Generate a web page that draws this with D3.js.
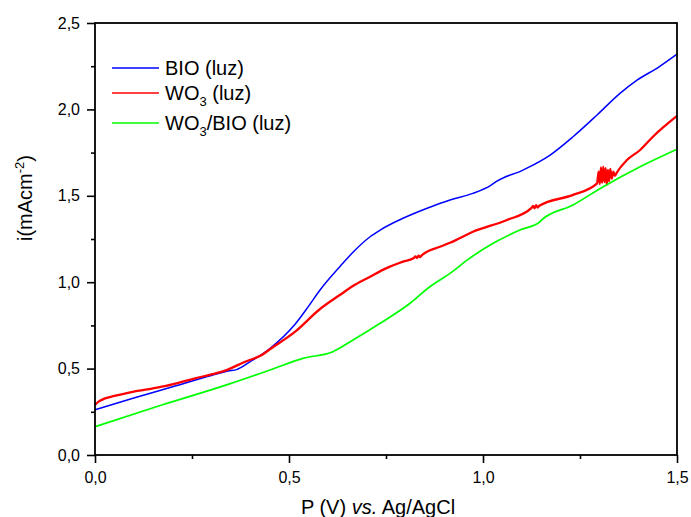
<!DOCTYPE html>
<html>
<head>
<meta charset="utf-8">
<script src="https://cdn.jsdelivr.net/npm/d3@7"></script>
<style>
  body { margin: 0; background: #fff; }
  text { font-family: Arial, "Liberation Sans", sans-serif; fill: #000; }
</style>
</head>
<body>
<div id="chart"></div>
<script>
// BIO (luz)
const bioV = [0.00, 0.10, 0.20, 0.30, 0.343, 0.365, 0.40, 0.45, 0.515, 0.55, 0.58, 0.631, 0.67, 0.709, 0.735, 0.794, 0.856, 0.915, 0.974, 1.02, 1.036, 1.103, 1.173, 1.232, 1.294, 1.353, 1.397, 1.448, 1.50];
const bioI = [0.262, 0.330, 0.395, 0.460, 0.486, 0.494, 0.540, 0.615, 0.755, 0.860, 0.955, 1.090, 1.185, 1.263, 1.302, 1.370, 1.428, 1.476, 1.514, 1.560, 1.585, 1.649, 1.736, 1.842, 1.968, 2.093, 2.170, 2.238, 2.320];

// WO3 (luz)
const wo3V = [0.00, 0.01, 0.026, 0.05, 0.085, 0.13, 0.172, 0.215, 0.258, 0.30, 0.335, 0.387, 0.43, 0.451, 0.515, 0.58, 0.631, 0.67, 0.709, 0.75, 0.794, 0.822, 0.826, 0.830, 0.834, 0.838, 0.842, 0.889, 0.915, 0.974, 1.062, 1.125, 1.129, 1.133, 1.137, 1.141, 1.145, 1.232, 1.294, 1.298, 1.301, 1.304, 1.307, 1.310, 1.313, 1.316, 1.319, 1.322, 1.325, 1.328, 1.332, 1.336, 1.340, 1.345, 1.371, 1.405, 1.438, 1.50];
const wo3I = [0.290, 0.310, 0.328, 0.342, 0.360, 0.378, 0.395, 0.418, 0.444, 0.466, 0.488, 0.540, 0.579, 0.612, 0.712, 0.845, 0.926, 0.985, 1.032, 1.080, 1.119, 1.140, 1.150, 1.140, 1.153, 1.145, 1.155, 1.205, 1.228, 1.292, 1.360, 1.430, 1.442, 1.428, 1.446, 1.432, 1.442, 1.505, 1.572, 1.640, 1.568, 1.665, 1.575, 1.668, 1.580, 1.660, 1.563, 1.650, 1.585, 1.655, 1.600, 1.640, 1.615, 1.635, 1.707, 1.765, 1.842, 1.962];

// WO3/BIO (luz)
const wbV = [0.00, 0.172, 0.343, 0.451, 0.536, 0.613, 0.665, 0.735, 0.812, 0.863, 0.889, 0.915, 0.959, 1.026, 1.095, 1.147, 1.150, 1.232, 1.31, 1.405, 1.50];
const wbI = [0.164, 0.289, 0.409, 0.492, 0.559, 0.598, 0.665, 0.762, 0.878, 0.974, 1.013, 1.051, 1.128, 1.225, 1.302, 1.350, 1.358, 1.447, 1.553, 1.668, 1.769];

const xTicks = [0, 0.5, 1.0, 1.5];
const xMinor = [0.25, 0.75, 1.25];
const xTickLabels = ['0,0', '0,5', '1,0', '1,5'];
const yTicks = [0, 0.5, 1.0, 1.5, 2.0, 2.5];
const yMinor = [0.25, 0.75, 1.25, 1.75, 2.25];
const yTickLabels = ['0,0', '0,5', '1,0', '1,5', '2,0', '2,5'];

const width = 691, height = 517;
const margin = {top: 23, left: 95, right: 14, bottom: 62};

const svg = d3.select('#chart')
    .append('svg')
    .attr('width', width)
    .attr('height', height);

const x = d3.scaleLinear().domain([0, 1.5]).range([margin.left, width - margin.right]);
const y = d3.scaleLinear().domain([0, 2.5]).range([height - margin.bottom, margin.top]);

const series = [
    {name: 'BIO', v: bioV, i: bioI, color: '#0000ff', w: 1.5},
    {name: 'WO3', v: wo3V, i: wo3I, color: '#ff0000', w: 2.3},
    {name: 'WO3/BIO', v: wbV, i: wbI, color: '#00ff00', w: 1.7}
];

const line = d3.line()
    .curve(d3.curveMonotoneX)
    .x(d => x(d[0]))
    .y(d => y(d[1]));

series.forEach(s => {
    svg.append('path')
        .datum(s.v.map((v, k) => [v, s.i[k]]))
        .attr('fill', 'none')
        .attr('stroke', s.color)
        .attr('stroke-width', s.w)
        .attr('stroke-linejoin', 'round')
        .attr('d', line);
});

// axes
svg.append('g')
    .attr('transform', `translate(0,${y(0)})`)
    .call(d3.axisBottom(x).tickValues(xTicks).tickSize(8).tickSizeOuter(0).tickPadding(9)
        .tickFormat((d, k) => xTickLabels[k]));
svg.append('g')
    .attr('transform', `translate(0,${y(0)})`)
    .call(d3.axisBottom(x).tickValues(xMinor).tickSize(4).tickSizeOuter(0).tickFormat(''));

svg.append('g')
    .attr('transform', `translate(${x(0)},0)`)
    .call(d3.axisLeft(y).tickValues(yTicks).tickSize(8).tickSizeOuter(0).tickPadding(7)
        .tickFormat((d, k) => yTickLabels[k]));
svg.append('g')
    .attr('transform', `translate(${x(0)},0)`)
    .call(d3.axisLeft(y).tickValues(yMinor).tickSize(4).tickSizeOuter(0).tickFormat(''));

svg.selectAll('.domain').remove();
svg.selectAll('.tick line').attr('stroke', '#000').attr('stroke-width', 1.6);
svg.selectAll('.tick text').style('font-size', '16px').attr('fill', '#000');

// frame
svg.append('rect')
    .attr('x', x(0))
    .attr('y', y(2.5))
    .attr('width', x(1.5) - x(0))
    .attr('height', y(0) - y(2.5))
    .attr('fill', 'none')
    .attr('stroke', '#000')
    .attr('stroke-width', 1.8);

// axis titles
const xt = svg.append('text')
    .attr('x', 378)
    .attr('y', 514)
    .attr('text-anchor', 'middle')
    .style('font-size', '20px');
xt.append('tspan').text('P (V) ');
xt.append('tspan').style('font-style', 'italic').text('vs.');
xt.append('tspan').text(' Ag/AgCl');

const yt = svg.append('text')
    .attr('transform', 'translate(32,198) rotate(-90)')
    .attr('text-anchor', 'middle')
    .style('font-size', '20px');
yt.append('tspan').text('i(mAcm');
yt.append('tspan').attr('dy', -8).style('font-size', '13px').text('-2');
yt.append('tspan').attr('dy', 8).text(')');

// legend
const legendRows = [
    {color: '#0000ff', y: 68, parts: [['BIO (luz)', false]]},
    {color: '#ff0000', y: 93, parts: [['WO', false], ['3', true], [' (luz)', false]]},
    {color: '#00ff00', y: 123, parts: [['WO', false], ['3', true], ['/BIO (luz)', false]]}
];
legendRows.forEach(r => {
    svg.append('line')
        .attr('x1', 112).attr('x2', 159)
        .attr('y1', r.y).attr('y2', r.y)
        .attr('stroke', r.color)
        .attr('stroke-width', 1.6);
    const t = svg.append('text')
        .attr('x', 165)
        .attr('y', r.y + 7)
        .style('font-size', '20px');
    let down = false;
    r.parts.forEach(p => {
        const ts = t.append('tspan').text(p[0]);
        if (p[1]) { ts.attr('dy', 6).style('font-size', '13px'); down = true; }
        else if (down) { ts.attr('dy', -6); down = false; }
    });
});
</script>
</body>
</html>
